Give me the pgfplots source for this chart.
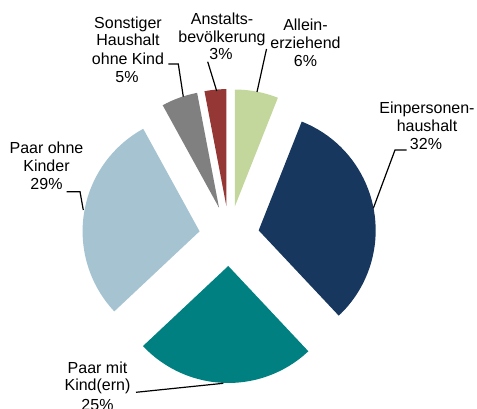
\documentclass[border=0pt]{standalone}
\usepackage{pgfplots}
\pgfplotsset{compat=1.18}
\usepackage{fontspec}
\setmainfont{Liberation Sans}
\definecolor{cAllein}{HTML}{C3D69B}
\definecolor{cEin}{HTML}{17375E}
\definecolor{cMit}{HTML}{008080}
\definecolor{cOhne}{HTML}{A5C3D1}
\definecolor{cSonst}{HTML}{808080}
\definecolor{cAnst}{HTML}{953735}
% slice: #1 = cumulative start (%), #2 = value (%), #3 = colour
\newcommand\slice[3]{%
  \fill[#3, shift={({90-3.6*(#1+#2/2)}:30bp)}]
    (axis cs:229.2,173) -- ++({90-3.6*#1}:117bp)
    arc[start angle={90-3.6*#1}, end angle={90-3.6*(#1+#2)}, radius=117bp] -- cycle;}
\newcommand\lbl[3]{\node[anchor=base, inner sep=0pt, font=\fontsize{16bp}{18bp}\selectfont] at (axis cs:#1,#2) {#3};}
\begin{document}
\begin{tikzpicture}
\begin{axis}[name=ax, width=477bp, height=409bp, scale only axis,
  xmin=0, xmax=477, ymin=0, ymax=409, hide axis, clip=false]
% Allein-erziehend 6, Einpersonenhaushalt 32, Paar mit Kind(ern) 25,
% Paar ohne Kinder 29, Sonstiger Haushalt ohne Kind 5, Anstaltsbevoelkerung 3
\slice{0}{6}{cAllein}
\slice{6}{32}{cEin}
\slice{38}{25}{cMit}
\slice{63}{29}{cOhne}
\slice{92}{5}{cSonst}
\slice{97}{3}{cAnst}
% leader lines
\draw[black, line width=1.2bp] (axis cs:266.5,360) -- (axis cs:257,317);
\draw[black, line width=1.2bp] (axis cs:406.7,259) -- (axis cs:395,259) -- (axis cs:373.3,200.7);
\draw[black, line width=1.2bp] (axis cs:136,16.7) -- (axis cs:223.3,25.7);
\draw[black, line width=1.2bp] (axis cs:66.7,217.3) -- (axis cs:80,217.3) -- (axis cs:83.3,199);
\draw[black, line width=1.2bp] (axis cs:168.3,345) -- (axis cs:178.3,345) -- (axis cs:183.3,312.3);
\draw[black, line width=1.2bp] (axis cs:207.7,347.3) -- (axis cs:216.7,318);
% labels
\lbl{305.5}{378}{Allein-}
\lbl{305.5}{360.5}{erziehend}
\lbl{305.5}{342.5}{6\%}
\lbl{427}{295.7}{Einpersonen-}
\lbl{427}{277.3}{haushalt}
\lbl{426}{259}{32\%}
\lbl{97.5}{35.7}{Paar mit}
\lbl{97.5}{18.3}{Kind(ern)}
\lbl{97.5}{-1}{25\%}
\lbl{46.5}{255.7}{Paar ohne}
\lbl{46.5}{237.3}{Kinder}
\lbl{46.5}{219}{29\%}
\lbl{128}{380.7}{Sonstiger}
\lbl{128}{363.3}{Haushalt}
\lbl{128}{344.7}{ohne Kind}
\lbl{127}{326.7}{5\%}
\lbl{222}{384}{Anstalts-}
\lbl{222}{366.7}{bevölkerung}
\lbl{221}{349}{3\%}
\end{axis}
\pgfresetboundingbox
\path[use as bounding box] (ax.south west) rectangle (ax.north east);
\end{tikzpicture}
\end{document}
